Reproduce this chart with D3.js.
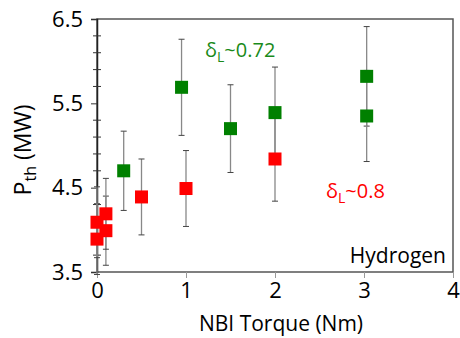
<!DOCTYPE html>
<html><head><meta charset="utf-8">
<script src="https://cdn.jsdelivr.net/npm/d3@7"></script>
<style>body{margin:0;background:#fff}svg{display:block}text{font-family:"Open Sans",sans-serif}</style>
</head><body><svg id="c" width="460" height="338"></svg>
<script>
const greenX = [0.3, 0.95, 1.5, 2.0, 3.03, 3.03];
const greenY = [4.70, 5.69, 5.20, 5.39, 5.82, 5.35];
const greenErr = [0.47, 0.57, 0.52, 0.54, 0.59, 0.54];
const redX = [0, 0, 0.1, 0.1, 0.5, 1.0, 2.0];
const redY = [3.89, 4.09, 3.99, 4.19, 4.39, 4.49, 4.84];
const redErr = [0.42, 0.42, 0.41, 0.42, 0.45, 0.45, 0.5];
const xTicks = [0, 1, 2, 3, 4];
const yTicks = [3.5, 4.5, 5.5, 6.5];
const yMinor = [3.7, 3.9, 4.1, 4.3, 4.7, 4.9, 5.1, 5.3, 5.7, 5.9, 6.1, 6.3];

const svg = d3.select("#c");
const L = 97, R = 453, T = 19, B = 272;
const x = d3.scaleLinear().domain([0, 4]).range([L, R]);
const y = d3.scaleLinear().domain([3.5, 6.5]).range([B, T]);

// frame
svg.append("rect").attr("x", L).attr("y", T).attr("width", R - L).attr("height", B - T)
  .attr("fill", "none").attr("stroke", "#555").attr("stroke-width", 1.5);

// x axis
const xa = svg.append("g").attr("transform", `translate(0,${B})`)
  .call(d3.axisBottom(x).tickValues(xTicks).tickSize(6).tickPadding(4).tickFormat(d3.format("d")));
xa.select(".domain").remove();
xa.selectAll("line").attr("stroke", "#999");
xa.selectAll("text").attr("font-size", 22).attr("fill", "#000");

// y axis
const ya = svg.append("g").attr("transform", `translate(${L},0)`)
  .call(d3.axisLeft(y).tickValues(yTicks).tickSize(6).tickPadding(8).tickFormat(d3.format(".1f")));
ya.select(".domain").attr("stroke", "#222").attr("stroke-width", 1.5);
ya.selectAll("line").attr("stroke", "#333");
ya.selectAll("text").attr("font-size", 22).attr("fill", "#000");
svg.append("g").selectAll("line").data(yMinor).join("line")
  .attr("x1", L - 4).attr("x2", L + 4).attr("y1", d => y(d)).attr("y2", d => y(d))
  .attr("stroke", "#333").attr("stroke-width", 1);

// titles
svg.append("text").attr("x", 281).attr("y", 331).attr("text-anchor", "middle")
  .attr("font-size", 21).text("NBI Torque (Nm)");
const yt = svg.append("text").attr("transform", "translate(31,150) rotate(-90)")
  .attr("text-anchor", "middle").attr("font-size", 23);
yt.append("tspan").text("P");
yt.append("tspan").attr("font-size", 16).attr("dy", 5).text("th");
yt.append("tspan").attr("dy", -5).text(" (MW)");

function series(xs, ys, es) {
  const g = svg.append("g");
  const data = xs.map((v, i) => ({x: v, y: ys[i], e: es[i]}));
  data.forEach(d => {
    g.append("line").attr("x1", x(d.x)).attr("x2", x(d.x)).attr("y1", y(d.y - d.e)).attr("y2", y(d.y + d.e))
      .attr("stroke", "#888").attr("stroke-width", 1.3);
    [d.y - d.e, d.y + d.e].forEach(v => g.append("line")
      .attr("x1", x(d.x) - 3).attr("x2", x(d.x) + 3).attr("y1", y(v)).attr("y2", y(v))
      .attr("stroke", "#444").attr("stroke-width", 1));
  });
  return data;
}
const gd = series(greenX, greenY, greenErr);
const rd = series(redX, redY, redErr);
function marks(data, color) {
  svg.append("g").selectAll("rect").data(data).join("rect")
    .attr("x", d => x(d.x) - 6.5).attr("y", d => y(d.y) - 6.5).attr("width", 13).attr("height", 13)
    .attr("fill", color);
}
marks(gd, "#008000");
marks(rd, "#ff0000");

function label(tx, ty, main, color) {
  const t = svg.append("text").attr("x", tx).attr("y", ty).attr("font-size", 20).attr("fill", color);
  t.append("tspan").text("δ");
  t.append("tspan").attr("font-size", 14).attr("dy", 5).text("L");
  t.append("tspan").attr("dy", -5).text(main);
}
label(205, 57, "~0.72", "#1a8a1a");
label(326, 198, "~0.8", "#ff0000");
svg.append("text").attr("x", 446).attr("y", 263).attr("text-anchor", "end").attr("font-size", 21).text("Hydrogen");
</script></body></html>
